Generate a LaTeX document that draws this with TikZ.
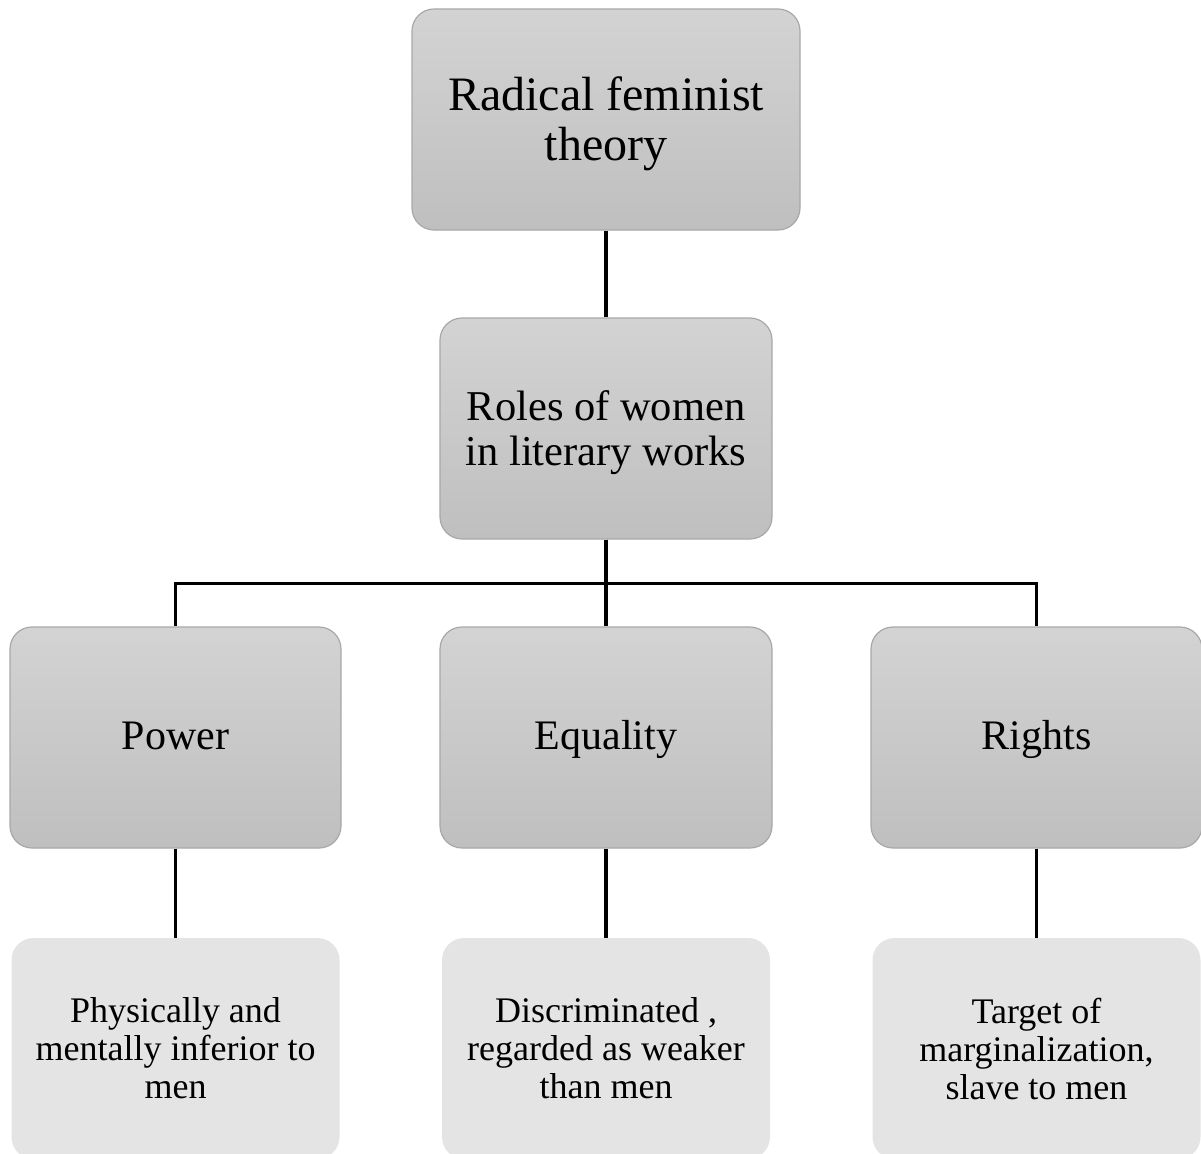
\documentclass[tikz,border=0pt]{standalone}
\usepackage{fontspec}
\setmainfont{Liberation Serif}
\definecolor{boxtop}{HTML}{D3D3D3}
\definecolor{boxbot}{HTML}{BFBFBF}
\definecolor{boxedge}{HTML}{A8A8A8}
\definecolor{leaffill}{HTML}{E4E4E4}
\tikzset{
  mainbox/.style={rectangle, rounded corners=22pt, draw=boxedge, line width=1.2pt,
    top color=boxtop, bottom color=boxbot, align=center, inner sep=0pt,
    minimum height=221pt, text=black},
  catbox/.style={mainbox, minimum width=331pt, font=\fontsize{42}{46}\selectfont,
    text height=33pt, text depth=10pt},
  leafbox/.style={rectangle, rounded corners=22pt, fill=leaffill, draw=none,
    align=center, inner sep=0pt, minimum height=221pt, minimum width=328pt,
    font=\fontsize{36}{38}\selectfont},
  link/.style={line width=3.3pt, draw=black}
}
\begin{document}
\begin{tikzpicture}[x=1pt,y=-1pt]
\useasboundingbox (0,0) rectangle (1201,1153);
\node[mainbox, minimum width=388pt, font=\fontsize{48}{50}\selectfont] (top) at (606,119.5) {\rule{0pt}{41.5pt}Radical feminist\\theory};
\node[mainbox, minimum width=332pt, font=\fontsize{42.5}{45}\selectfont] (mid) at (606,428.5) {\rule{0pt}{38pt}Roles of women\\in literary works};
\node[catbox] (power) at (175.5,737.5) {Power};
\node[catbox, minimum width=332pt] (equality) at (606,737.5) {Equality};
\node[catbox] (rights) at (1036.5,737.5) {Rights};
\node[leafbox] (l1) at (175.5,1048.5) {Physically and\\mentally inferior to\\men};
\node[leafbox] (l2) at (606,1048.5) {Discriminated ,\\regarded as weaker\\than men};
\node[leafbox] (l3) at (1036.5,1048.5) {Target of\\marginalization,\\slave to men};
\draw[link] (top.south) -- (mid.north);
\draw[link] (mid.south) -- (equality.north);
\draw[link] (mid.south) -- ++(0,44) -| (power.north);
\draw[link] (mid.south) -- ++(0,44) -| (rights.north);
\draw[link] (power.south) -- (l1.north);
\draw[link] (equality.south) -- (l2.north);
\draw[link] (rights.south) -- (l3.north);
\end{tikzpicture}
\end{document}
